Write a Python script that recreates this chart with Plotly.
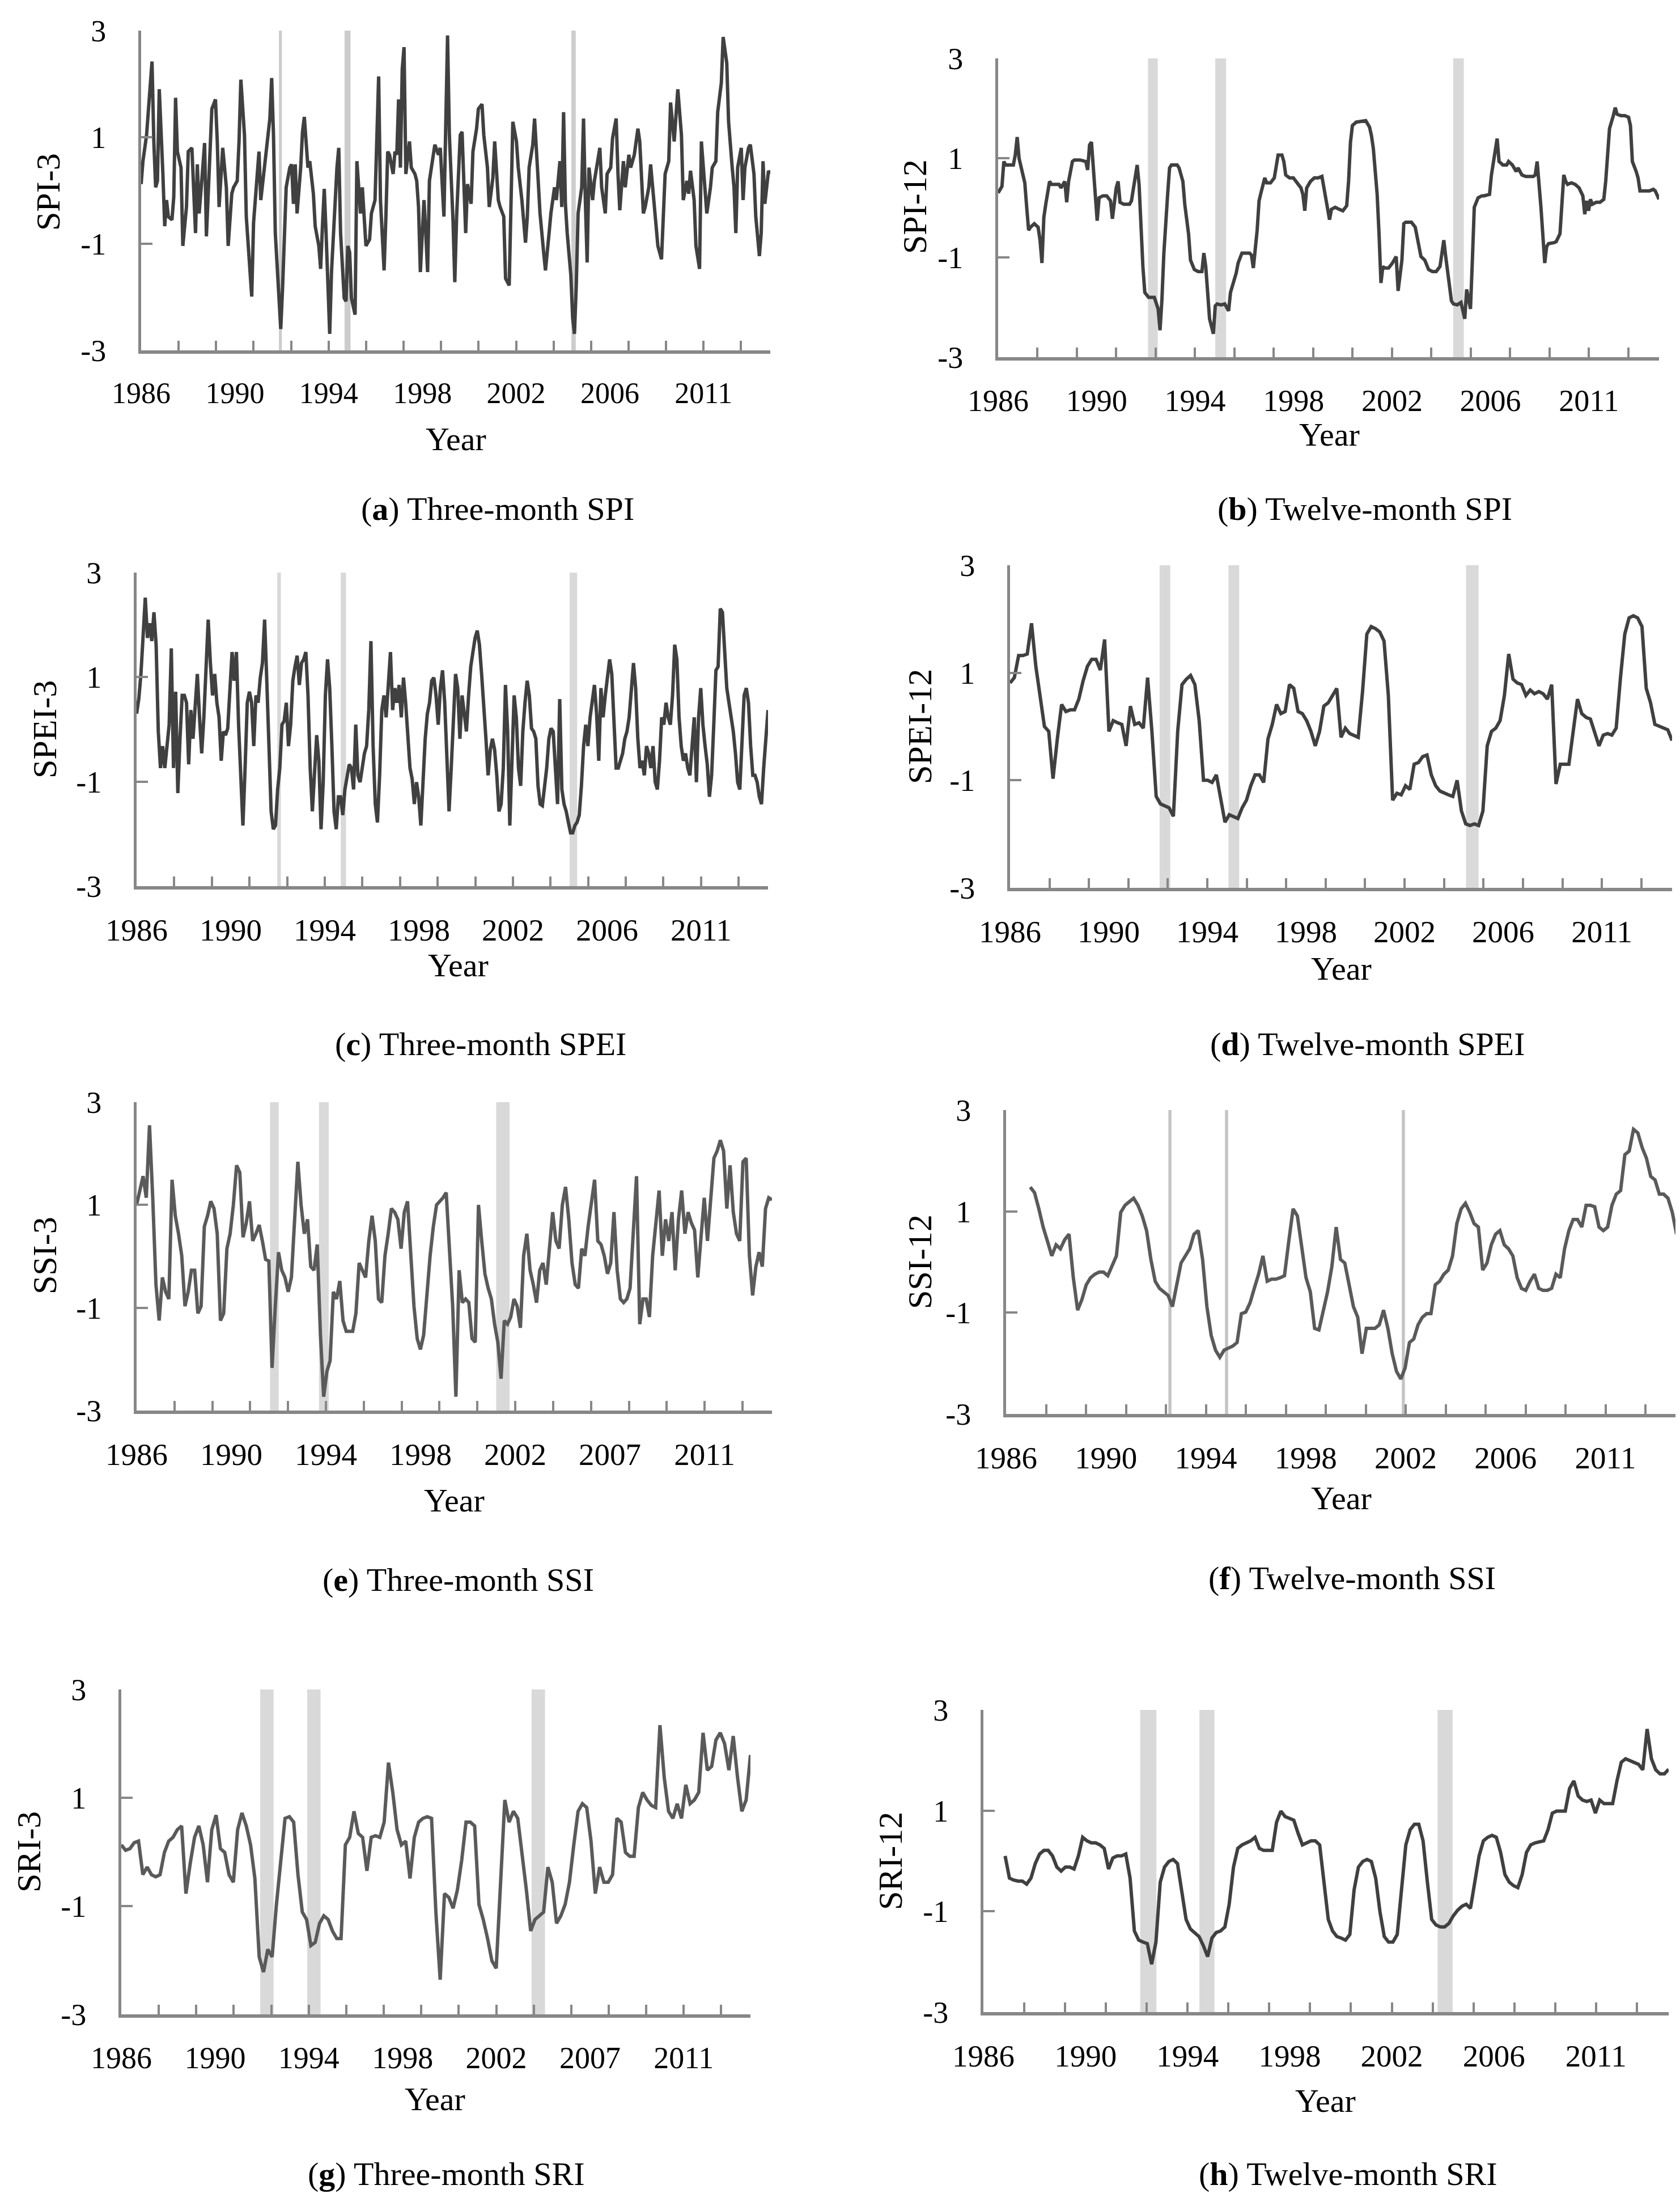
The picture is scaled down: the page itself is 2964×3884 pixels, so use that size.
import numpy as np
import plotly.graph_objects as go

W, H = 2964, 3884
FONT = "Liberation Serif"
AXIS = "#878787"
DARK = "#404040"
MID = "#5a5a5a"
BAND = "#d9d9d9"

RECORD_END = 347  # months since Jan 1986 (axis span)

# ---------------- data ----------------
# (month index, value) pairs
SPI3 = [(0,0.12),(1,0.55),(3,1.04),(4,1.47),(6,2.42),(7,0.92),(8,0.06),(9,0.18),(10,1.90),(12,0.31),(13,-0.67),(14,-0.18),(15,-0.49),(17,-0.55),(18,-0.12),(19,1.74),(20,0.73),(22,0.43),(23,-1.04),(25,-0.31),(26,0.73),(28,0.80),(30,-0.80),(31,0.49),(32,-0.43),(34,0.43),(35,0.89),(36,-0.86),(38,0.92),(39,1.53),(41,1.71),(42,0.92),(43,-0.31),(45,0.80),(47,0.06),(48,-1.04),(50,-0.06),(51,0.06),(53,0.18),(54,0.92),(55,2.08),(57,1.04),(58,-0.49),(60,-1.41),(61,-1.99),(62,-0.61),(64,0.43),(65,0.73),(66,-0.18),(68,0.43),(69,0.73),(71,1.35),(72,2.11),(73,1.04),(74,-0.80),(76,-1.90),(77,-2.60),(78,-1.84),(79,-0.80),(80,0.06),(82,0.43),(83,0.49),(84,-0.25),(85,0.49),(86,-0.43),(88,0.43),(89,1.10),(90,1.38),(92,0.43),(93,0.55),(95,-0.06),(96,-0.67),(98,-1.04),(99,-1.47),(100,-0.67),(101,0.03),(102,-0.80),(104,-2.69),(105,-1.53),(107,-0.06),(108,0.43),(109,0.80),(110,-0.80),(112,-2.02),(113,-2.08),(114,-1.04),(115,-1.16),(116,-2.02),(118,-2.33),(119,0.55),(121,-0.43),(122,0.06),(123,-0.55),(124,-1.04),(126,-0.92),(127,-0.43),(129,-0.18),(130,1.04),(131,2.14),(132,-0.18),(134,-1.50),(135,-0.49),(136,0.73),(137,0.67),(139,0.31),(140,0.73),(141,0.67),(142,1.71),(143,0.43),(144,2.27),(145,2.69),(146,0.31),(148,0.92),(149,0.43),(151,0.31),(152,0.18),(153,-0.31),(154,-1.53),(156,-0.18),(157,-0.80),(158,-1.53),(159,0.18),(161,0.61),(162,0.86),(164,0.67),(165,0.80),(167,-0.49),(168,1.65),(169,2.91),(170,1.04),(172,-0.55),(173,-1.72),(174,-0.49),(176,1.04),(177,1.10),(179,-0.80),(180,0.12),(182,-0.25),(183,0.73),(185,1.16),(186,1.53),(188,1.62),(189,1.04),(191,0.43),(192,-0.31),(194,0.24),(195,0.92),(197,-0.18),(198,-0.31),(200,-0.49),(201,-1.65),(203,-1.78),(204,-0.18),(205,1.29),(207,0.92),(208,0.43),(210,-0.18),(212,-0.98),(213,-0.49),(214,0.43),(216,0.86),(217,1.35),(219,0.18),(220,-0.43),(222,-1.16),(223,-1.50),(225,-0.80),(226,-0.43),(228,0.06),(229,-0.18),(231,0.55),(232,-0.31),(233,1.47),(234,-0.25),(235,-0.80),(237,-1.59),(238,-2.39),(239,-2.69),(240,-1.78),(241,-0.43),(243,0.06),(244,1.35),(245,-0.18),(246,-1.35),(247,0.43),(249,-0.18),(250,0.18),(252,0.55),(253,0.80),(254,0.06),(256,-0.43),(257,0.31),(259,0.43),(260,0.98),(262,1.35),(263,0.31),(264,-0.37),(266,0.55),(267,0.06),(269,0.67),(270,0.43),(272,0.67),(273,0.92),(274,1.16),(275,0.92),(277,-0.43),(278,-0.31),(280,0.06),(281,0.49),(283,-0.31),(284,-0.61),(285,-1.04),(287,-1.29),(288,-0.31),(289,0.31),(291,0.55),(292,1.65),(294,0.92),(295,1.47),(296,1.90),(298,1.04),(299,-0.18),(301,0.18),(302,-0.06),(303,0.37),(305,-0.18),(306,-1.04),(308,-1.47),(309,0.92),(311,-0.06),(312,-0.43),(314,0.06),(315,0.43),(317,0.55),(318,1.47),(320,2.02),(321,2.88),(323,2.39),(324,1.29),(326,0.43),(327,0.06),(328,-0.80),(329,0.43),(331,0.80),(332,-0.18),(333,0.43),(335,0.80),(336,0.86),(338,0.31),(339,-0.49),(341,-1.23),(342,-0.80),(343,0.55),(344,-0.25),(345,0.06),(346,0.37),(347,0.31)]

SPI12 = [(0,0.30),(2,0.43),(3,0.93),(4,0.86),(6,0.86),(8,0.86),(9,1.06),(10,1.42),(11,0.99),(13,0.66),(14,0.50),(15,0.01),(16,-0.45),(17,-0.39),(19,-0.32),(21,-0.39),(22,-0.65),(23,-1.11),(24,-0.19),(25,0.07),(27,0.53),(28,0.47),(30,0.47),(32,0.47),(33,0.40),(35,0.53),(36,0.11),(37,0.53),(39,0.93),(40,0.96),(43,0.96),(46,0.93),(47,0.76),(48,1.26),(49,1.32),(50,0.80),(51,0.27),(52,-0.26),(53,0.20),(55,0.24),(57,0.24),(59,0.14),(60,-0.22),(62,0.40),(63,0.53),(64,0.11),(66,0.07),(69,0.07),(70,0.14),(72,0.60),(73,0.86),(74,0.47),(75,-0.39),(76,-1.18),(77,-1.70),(79,-1.80),(81,-1.80),(82,-1.80),(84,-2.03),(85,-2.46),(86,-1.84),(87,-0.92),(89,0.27),(90,0.80),(91,0.86),(94,0.86),(95,0.80),(97,0.53),(98,0.07),(100,-0.53),(101,-1.05),(103,-1.24),(105,-1.28),(107,-1.28),(108,-0.91),(109,-1.18),(110,-1.70),(111,-2.23),(113,-2.53),(114,-1.97),(115,-1.93),(117,-1.95),(119,-1.93),(121,-2.07),(122,-1.70),(123,-1.57),(125,-1.31),(126,-1.11),(128,-0.91),(130,-0.91),(132,-0.91),(133,-0.95),(134,-1.21),(136,-0.45),(137,0.14),(138,0.30),(140,0.60),(141,0.50),(143,0.50),(145,0.60),(146,0.80),(147,1.06),(149,1.06),(150,0.93),(151,0.66),(153,0.60),(155,0.60),(157,0.50),(159,0.40),(160,0.27),(161,-0.06),(162,0.40),(164,0.53),(166,0.60),(168,0.60),(170,0.63),(171,0.40),(173,-0.06),(174,-0.24),(175,-0.03),(177,0.01),(179,-0.03),(181,-0.06),(183,0.04),(184,0.53),(185,1.32),(186,1.65),(188,1.72),(190,1.73),(193,1.75),(195,1.62),(196,1.45),(197,1.19),(199,0.27),(200,-0.53),(201,-1.51),(202,-1.18),(203,-1.21),(205,-1.21),(207,-1.11),(209,-0.98),(210,-1.67),(212,-1.05),(213,-0.32),(214,-0.29),(217,-0.29),(219,-0.39),(221,-0.78),(222,-0.98),(224,-1.05),(226,-1.24),(228,-1.28),(230,-1.28),(232,-1.18),(233,-0.91),(234,-0.65),(235,-0.98),(237,-1.57),(238,-1.87),(239,-1.93),(241,-1.95),(243,-1.90),(244,-2.10),(245,-2.23),(246,-1.64),(248,-2.03),(249,-1.05),(250,0.01),(252,0.20),(254,0.24),(255,0.24),(258,0.27),(259,0.66),(261,1.19),(262,1.39),(263,0.93),(265,0.86),(267,0.86),(268,0.93),(270,0.86),(272,0.73),(273,0.80),(275,0.66),(277,0.63),(279,0.63),(281,0.63),(282,0.66),(283,0.93),(285,0.01),(286,-0.65),(287,-1.11),(288,-0.78),(289,-0.72),(292,-0.70),(293,-0.68),(295,-0.52),(296,0.14),(297,0.66),(298,0.53),(299,0.47),(301,0.50),(303,0.47),(305,0.40),(307,0.24),(308,-0.13),(309,0.14),(310,-0.06),(311,0.17),(312,0.07),(314,0.11),(316,0.11),(318,0.17),(319,0.53),(320,1.12),(321,1.59),(323,1.85),(324,2.01),(325,1.88),(327,1.85),(329,1.85),(331,1.82),(332,1.65),(333,0.93),(335,0.73),(336,0.60),(337,0.34),(339,0.34),(342,0.34),(344,0.37),(345,0.34),(347,0.17)]

# evenly spaced samples across the record
SPEI3 = [0.30,0.58,1.06,1.82,2.52,1.75,2.03,1.69,2.24,1.62,-0.04,-0.74,-0.32,-0.74,-0.32,0.09,1.55,-0.74,0.72,-1.22,-0.18,
         0.65,0.65,0.51,-0.67,0.37,-0.18,0.51,1.06,0.23,-0.46,0.23,1.34,2.10,1.27,0.65,1.06,0.51,0.23,-0.60,-0.04,-0.11,0.02,0.85,1.48,0.93,1.48,0.09,-0.74,-1.84,-0.74,0.51,0.72,0.51,-0.32,0.65,0.51,0.99,1.27,2.10,0.93,-0.32,-1.57,-1.91,-1.84,-1.15,-0.74,0.09,0.16,0.51,-0.32,0.09,0.93,1.20,1.41,0.85,1.27,
         1.34,1.48,0.65,-0.74,-1.57,-0.88,-0.11,-0.60,-1.91,-1.01,0.65,1.34,0.79,-0.32,-1.57,-1.91,-1.29,-1.29,-1.64,-1.15,-0.88,-0.67,-0.74,-1.15,0.09,-0.88,-1.01,-0.74,-0.46,-0.32,0.37,1.69,-0.32,-1.43,-1.78,-0.88,0.37,0.65,0.23,0.85,1.48,0.37,0.79,0.51,0.85,0.23,0.99,0.51,-0.04,-0.74,-0.95,-1.43,-1.01,-1.29,-1.84,-1.01,-0.18,0.30,0.51,0.93,0.99,0.65,0.09,0.79,1.13,0.51,-0.39,-1.57,-0.74,0.37,1.06,0.79,-0.18,0.65,0.23,-0.04,0.65,1.20,1.48,1.75,1.89,1.62,1.06,0.51,-0.18,-0.88,-0.39,-0.18,-0.39,-0.88,-1.57,-1.43,-0.74,0.85,-0.04,-1.84,-0.74,0.65,0.23,-0.74,-1.08,-0.04,0.51,0.93,0.65,0.02,-0.04,-0.18,-1.08,-1.43,-1.46,-1.15,-0.74,-0.18,0.02,-0.04,-0.74,-1.43,0.58,-1.15,-1.43,-1.57,-1.78,-1.98,-1.98,-1.84,-1.78,-1.64,-1.08,-0.32,0.09,-0.32,0.23,0.51,0.85,0.30,-0.60,0.79,0.23,0.65,1.06,1.34,1.06,-0.04,-0.74,-0.74,-0.60,-0.46,-0.18,-0.04,0.23,0.79,1.27,0.79,-0.18,-0.74,-0.60,-0.88,-0.32,-0.46,-0.74,-0.32,-1.01,-1.15,-0.60,0.23,0.09,0.51,0.23,0.09,0.65,1.62,1.34,0.23,-0.32,-0.60,-0.46,-0.74,-0.88,-0.32,0.23,-1.01,0.23,0.79,0.09,-0.32,-0.67,-1.29,-0.88,0.09,1.13,1.20,2.31,2.24,1.62,0.79,0.51,0.23,-0.04,-0.46,-1.01,-1.15,-0.04,0.65,0.79,0.51,-0.32,-0.88,-0.88,-1.01,-1.29,-1.43,-0.74,-0.18,0.37]

SPEI12 = [0.81,0.91,1.32,1.32,1.35,1.92,1.12,0.58,0.0,-0.09,-0.97,-0.23,0.41,0.28,0.31,0.31,0.51,0.85,1.12,1.25,1.25,1.05,1.62,-0.09,0.11,0.07,0.04,-0.36,0.38,0.04,0.07,-0.03,0.91,-0.09,-1.30,-1.44,-1.47,-1.51,-1.67,-0.09,0.78,0.88,0.95,0.78,0.11,-1.00,-1.00,-1.04,-0.90,-1.37,-1.78,-1.64,-1.67,-1.71,-1.51,-1.37,-1.10,-0.90,-0.90,-1.04,-0.23,0.04,0.41,0.24,0.28,0.78,0.71,0.28,0.24,0.11,-0.09,-0.36,-0.09,0.38,0.44,0.58,0.71,-0.20,-0.03,-0.13,-0.16,-0.20,0.65,1.72,1.86,1.82,1.76,1.59,0.58,-1.37,-1.24,-1.27,-1.10,-1.17,-0.70,-0.67,-0.56,-0.53,-0.90,-1.10,-1.20,-1.24,-1.27,-1.30,-1.00,-1.57,-1.81,-1.84,-1.81,-1.84,-1.57,-0.36,-0.09,-0.03,0.11,0.58,1.35,0.88,0.81,0.78,0.58,0.68,0.61,0.65,0.61,0.51,0.78,-1.07,-0.70,-0.70,-0.70,-0.09,0.51,0.24,0.17,0.14,-0.09,-0.36,-0.16,-0.13,-0.16,-0.03,0.91,1.72,2.02,2.06,2.02,1.86,0.71,0.44,0.04,0.01,-0.03,-0.06,-0.26]

SSI3 = [1.0,1.28,1.56,1.14,2.55,1.14,-0.55,-1.25,-0.41,-0.69,-0.83,1.49,0.79,0.44,0.01,-0.97,-0.69,-0.27,-0.27,-1.11,-0.97,0.58,0.79,1.07,0.93,0.44,-1.25,-1.11,0.15,0.44,1.0,1.77,1.63,0.37,0.65,1.07,0.30,0.44,0.61,0.30,-0.06,-0.09,-2.17,-0.97,0.08,-0.27,-0.41,-0.69,-0.41,0.72,1.84,1.0,0.44,0.72,-0.20,-0.27,0.23,-1.53,-2.73,-2.24,-2.03,-0.69,-0.83,-0.48,-1.25,-1.46,-1.46,-1.46,-1.11,-0.13,-0.27,-0.41,0.30,0.79,0.30,-0.83,-0.90,0.01,0.44,0.93,0.86,0.72,0.15,0.86,1.07,0.08,-0.97,-1.60,-1.81,-1.53,-0.69,0.01,0.58,1.0,1.07,1.14,1.24,0.01,-0.97,-2.73,-0.27,-0.90,-0.83,-0.90,-1.60,-1.67,1.0,0.30,-0.34,-0.62,-0.83,-1.32,-1.67,-2.38,-1.25,-1.32,-1.18,-0.83,-0.97,-1.39,0.01,0.44,-0.27,-0.55,-0.90,-0.27,-0.13,-0.55,0.15,0.86,0.30,0.15,1.0,1.35,0.72,-0.13,-0.55,-0.62,0.15,0.01,0.58,1.0,1.49,0.30,0.23,0.01,-0.34,-0.13,0.86,-0.27,-0.83,-0.90,-0.83,-0.62,0.44,1.56,-1.32,-0.83,-0.83,-1.18,0.01,0.72,1.28,0.01,0.72,0.30,0.86,-0.27,0.72,1.28,0.44,0.86,0.65,0.51,-0.41,0.37,1.14,0.30,1.14,1.91,2.05,2.26,2.05,0.93,1.77,0.86,0.44,0.30,1.84,1.91,0.01,-0.76,-0.20,0.08,-0.20,0.93,1.14,1.10]

SSI12 = [1.48,1.37,1.05,0.69,0.41,0.12,0.34,0.26,0.44,0.55,-0.31,-0.95,-0.74,-0.45,-0.31,-0.24,-0.20,-0.20,-0.27,-0.09,0.12,0.98,1.12,1.19,1.26,1.12,0.91,0.62,0.05,-0.38,-0.52,-0.59,-0.66,-0.88,-0.45,-0.02,0.12,0.26,0.55,0.62,0.05,-0.88,-1.45,-1.74,-1.88,-1.74,-1.70,-1.66,-1.59,-1.02,-0.99,-0.81,-0.52,-0.24,0.12,-0.38,-0.34,-0.34,-0.31,-0.27,0.41,1.05,0.91,0.34,-0.31,-0.59,-1.31,-1.34,-0.95,-0.59,-0.09,0.69,0.05,-0.02,-0.45,-0.88,-1.09,-1.81,-1.31,-1.31,-1.31,-1.24,-0.95,-1.31,-1.81,-2.16,-2.31,-2.09,-1.59,-1.52,-1.24,-1.09,-1.02,-1.02,-0.45,-0.38,-0.24,-0.16,0.12,0.76,1.05,1.16,0.98,0.76,0.69,-0.16,-0.02,0.34,0.55,0.62,0.34,0.26,0.12,-0.31,-0.52,-0.56,-0.38,-0.24,-0.52,-0.56,-0.56,-0.52,-0.24,-0.31,0.26,0.62,0.84,0.84,0.69,1.12,1.12,1.09,0.69,0.62,0.69,1.12,1.34,1.41,2.12,2.19,2.62,2.55,2.26,2.05,1.69,1.62,1.34,1.34,1.26,0.98,0.55]

SRI3 = [0.13,0.03,0.06,0.17,0.20,-0.42,-0.28,-0.42,-0.46,-0.42,-0.01,0.20,0.27,0.41,0.48,-0.77,-0.21,0.27,0.48,0.13,-0.56,0.41,0.68,0.06,-0.01,-0.42,-0.56,0.41,0.72,0.48,0.13,-0.49,-1.94,-2.22,-1.80,-1.94,-0.97,-0.15,0.62,0.65,0.55,-0.42,-1.11,-1.25,-1.73,-1.67,-1.32,-1.18,-1.25,-1.46,-1.60,-1.60,0.13,0.27,0.75,0.34,0.27,-0.35,0.27,0.30,0.27,0.55,1.65,1.10,0.41,0.13,0.20,-0.49,0.27,0.55,0.62,0.65,0.62,-1.11,-2.36,-0.77,-0.84,-1.04,-0.70,-0.15,0.55,0.55,0.48,-0.97,-1.25,-1.60,-2.01,-2.15,-0.56,0.96,0.55,0.75,0.62,-0.01,-0.70,-1.46,-1.25,-1.18,-1.11,-0.28,-0.56,-1.32,-1.18,-0.97,-0.56,0.13,0.75,0.89,0.82,0.20,-0.77,-0.28,-0.56,-0.56,-0.42,0.62,0.55,-0.01,-0.08,-0.08,0.82,1.10,0.96,0.86,0.82,2.34,1.37,0.75,0.62,0.89,0.62,1.24,0.89,0.96,1.10,2.20,1.51,1.58,2.07,2.20,2.00,1.51,2.14,1.38,0.75,0.96,1.79]

SRI12 = [0.10,-0.34,-0.38,-0.40,-0.40,-0.46,-0.34,-0.05,0.14,0.21,0.21,0.10,-0.12,-0.20,-0.12,-0.12,-0.16,0.10,0.47,0.40,0.36,0.36,0.32,0.25,-0.16,0.06,0.10,0.10,0.14,-0.34,-1.39,-1.57,-1.61,-1.64,-2.05,-1.61,-0.42,-0.12,-0.01,0.03,-0.05,-0.57,-1.16,-1.35,-1.42,-1.50,-1.68,-1.90,-1.53,-1.42,-1.39,-1.31,-0.86,-0.12,0.25,0.32,0.36,0.40,0.47,0.25,0.21,0.21,0.21,0.77,0.99,0.88,0.84,0.81,0.55,0.32,0.36,0.40,0.40,0.32,-0.42,-1.16,-1.39,-1.50,-1.53,-1.57,-1.46,-0.57,-0.12,-0.01,0.03,-0.01,-0.34,-1.01,-1.50,-1.61,-1.61,-1.46,-0.57,0.32,0.62,0.73,0.73,0.40,-0.42,-1.16,-1.27,-1.31,-1.31,-1.24,-1.09,-0.98,-0.90,-0.86,-0.94,-0.42,0.10,0.40,0.47,0.51,0.47,0.17,-0.27,-0.42,-0.49,-0.53,-0.27,0.17,0.32,0.36,0.38,0.40,0.62,0.95,0.99,0.99,0.99,1.44,1.59,1.29,1.21,1.18,1.21,0.95,1.21,1.14,1.14,1.14,1.59,1.96,2.03,1.99,1.96,1.92,1.81,2.62,2.03,1.81,1.73,1.73,1.82]

SSI12_START = 12.5
SRI12_START = 11

# drought periods (shaded), month index ranges
BANDS_SPI3 = [(76.0, 77.6), (112.2, 115.5), (237.3, 239.7)]
BANDS_SPI12 = [(78.7, 83.8), (114.0, 119.7), (238.9, 244.5)]
BANDS_SPEI3 = [(77.3, 79.3), (112.2, 115.1), (238.0, 242.1)]
BANDS_SPEI12 = [(78.4, 84.0), (114.5, 120.1), (239.0, 245.6)]
BANDS_SSI3 = [(72.9, 77.6), (99.6, 104.9), (196.4, 203.7)]
BANDS_SSI12 = [(84.0, 85.6), (113.3, 114.9), (204.8, 206.4)]
BANDS_SRI3 = [(76.6, 84.0), (102.5, 109.9), (226.3, 233.7)]
BANDS_SRI12 = [(79.4, 87.6), (109.4, 117.0), (230.0, 237.6)]

YEAR_LABELS_A = ["1986", "1990", "1994", "1998", "2002", "2006", "2011"]
YEAR_LABELS_B = ["1986", "1990", "1994", "1998", "2002", "2007", "2011"]
LABEL_STEP = 51.7     # months between year labels
TICK_STEP = LABEL_STEP / 2.5
Y_TICKS = [3, 1, -1, -3]
Y_TICKTEXT = ["3", "1", "-1", "-3"]

# ---------------- panels ----------------
def even(vals, start=0):
    return np.linspace(start, RECORD_END, len(vals))

PANELS = [
    dict(title="SPI-3", x=[p[0] for p in SPI3], y=[p[1] for p in SPI3], bands=BANDS_SPI3, band="#cccccc",
         labels=YEAR_LABELS_A, lsize=52, color=DARK, dom=(241, 1351, 46, 610), ytit=(77, 331), year=(796, 766),
         cap=(870, 889), letter="a", captext="Three-month SPI"),
    dict(title="SPI-12", x=[p[0] for p in SPI12], y=[p[1] for p in SPI12], bands=BANDS_SPI12, band=BAND,
         labels=YEAR_LABELS_A, lsize=54, color=DARK, dom=(1753, 2919, 95, 622), ytit=(1606, 356), year=(2337, 758),
         cap=(2400, 889), letter="b", captext="Twelve-month SPI"),
    dict(title="SPEI-3", x=even(SPEI3), y=SPEI3, bands=BANDS_SPEI3, band=BAND,
         labels=YEAR_LABELS_A, lsize=55, color=DARK, dom=(233, 1347, 1002, 1555), ytit=(71, 1279), year=(800, 1694),
         cap=(840, 1834), letter="c", captext="Three-month SPEI"),
    dict(title="SPEI-12", x=even(SPEI12), y=SPEI12, bands=BANDS_SPEI12, band=BAND,
         labels=YEAR_LABELS_A, lsize=55, color=DARK, dom=(1774, 2942, 989, 1558), ytit=(1615, 1273), year=(2358, 1700),
         cap=(2405, 1834), letter="d", captext="Twelve-month SPEI"),
    dict(title="SSI-3", x=even(SSI3), y=SSI3, bands=BANDS_SSI3, band=BAND,
         labels=YEAR_LABELS_B, lsize=55, color=MID, dom=(233, 1354, 1936, 2480), ytit=(71, 2207), year=(793, 2638),
         cap=(800, 2778), letter="e", captext="Three-month SSI"),
    dict(title="SSI-12", x=even(SSI12, SSI12_START), y=SSI12, bands=BANDS_SSI12, band="#c4c4c4",
         labels=YEAR_LABELS_A, lsize=55, color=MID, dom=(1767, 2950, 1950, 2486), ytit=(1615, 2217), year=(2358, 2634),
         cap=(2377, 2775), letter="f", captext="Twelve-month SSI"),
    dict(title="SRI-3", x=even(SRI3), y=SRI3, bands=BANDS_SRI3, band=BAND,
         labels=YEAR_LABELS_B, lsize=54, color=MID, dom=(206, 1316, 2972, 3545), ytit=(43, 3259), year=(760, 3694),
         cap=(779, 3826), letter="g", captext="Three-month SRI"),
    dict(title="SRI-12", x=even(SRI12, SRI12_START), y=SRI12, bands=BANDS_SRI12, band=BAND,
         labels=YEAR_LABELS_A, lsize=55, color=DARK, dom=(1727, 2936, 3008, 3541), ytit=(1563, 3275), year=(2330, 3697),
         cap=(2370, 3826), letter="h", captext="Twelve-month SRI"),
]

label_pos = [LABEL_STEP * k for k in range(7)]
tick_pos = [TICK_STEP * k for k in range(17)]

fig = go.Figure()
layout = dict(width=W, height=H, margin=dict(l=0, r=0, t=0, b=0, pad=0, autoexpand=False),
              paper_bgcolor="white", plot_bgcolor="white", showlegend=False,
              font=dict(family=FONT, color="black"))
annotations = []
shapes = []

for i, p in enumerate(PANELS, start=1):
    n = "" if i == 1 else str(i)
    lab = str(i + 8)
    x0, x1, yt, yb = p["dom"]
    xdom = [x0 / W, x1 / W]
    ydom = [1 - yb / H, 1 - yt / H]

    fig.add_trace(go.Scatter(x=list(p["x"]), y=list(p["y"]), mode="lines",
                             line=dict(color=p["color"], width=6),
                             xaxis="x" + n, yaxis="y" + n, hoverinfo="skip"))

    layout["xaxis" + n] = dict(domain=xdom, anchor="y" + n, range=[0, RECORD_END], automargin=False,
                               showline=True, linecolor=AXIS, linewidth=6,
                               ticks="inside", tickvals=tick_pos, ticklen=17, tickwidth=4,
                               tickcolor=AXIS, showticklabels=False, showgrid=False, zeroline=False)
    layout["xaxis" + lab] = dict(overlaying="x" + n, anchor="y" + n, range=[0, RECORD_END], automargin=False,
                                 side="bottom", showline=False, ticks="", tickvals=label_pos,
                                 ticktext=p["labels"], showgrid=False, zeroline=False,
                                 tickfont=dict(family=FONT, size=p["lsize"], color="black"),
                                 ticklabelstandoff=40)
    layout["yaxis" + n] = dict(domain=ydom, anchor="x" + n, range=[-3, 3], automargin=False,
                               showline=True, linecolor=AXIS, linewidth=5,
                               ticks="inside", tickvals=Y_TICKS, ticktext=Y_TICKTEXT,
                               ticklen=20, tickwidth=4, tickcolor=AXIS,
                               tickfont=dict(family=FONT, size=54, color="black"),
                               ticklabelstandoff=46, showgrid=False, zeroline=False)
    # an empty trace on the label axis so that it is drawn
    fig.add_trace(go.Scatter(x=[0], y=[None], mode="lines", xaxis="x" + lab, yaxis="y" + n,
                             hoverinfo="skip", showlegend=False))

    for b0, b1 in p["bands"]:
        shapes.append(dict(type="rect", xref="x" + n, yref="y" + n, x0=b0, x1=b1, y0=-3, y1=3,
                           fillcolor=p["band"], line=dict(width=0), layer="below"))

    tx, ty = p["ytit"]
    annotations.append(dict(x=tx / W, y=1 - ty / H, xref="paper", yref="paper", text=p["title"],
                            textangle=-90, showarrow=False, xanchor="center", yanchor="middle",
                            font=dict(family=FONT, size=60, color="black")))
    yx, yy = p["year"]
    annotations.append(dict(x=yx / W, y=1 - yy / H, xref="paper", yref="paper", text="Year",
                            showarrow=False, xanchor="center", yanchor="middle",
                            font=dict(family=FONT, size=58, color="black")))
    cx, cy = p["cap"]
    annotations.append(dict(x=cx / W, y=1 - cy / H, xref="paper", yref="paper",
                            text="(<b>%s</b>) %s" % (p["letter"], p["captext"]),
                            showarrow=False, xanchor="center", yanchor="middle",
                            font=dict(family=FONT, size=58, color="black")))

layout["annotations"] = annotations
layout["shapes"] = shapes
fig.update_layout(**layout)
fig.write_html("out.html")
